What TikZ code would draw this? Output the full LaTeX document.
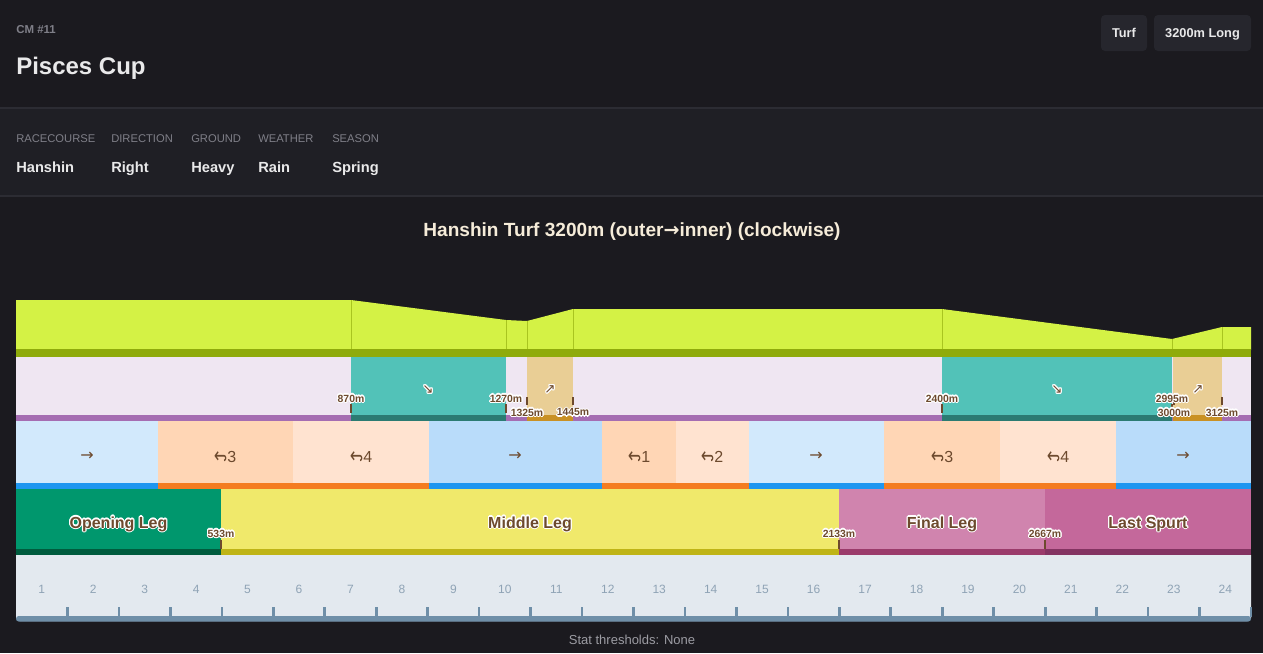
\documentclass[tikz,border=0pt]{standalone}
\usepackage{fontspec}
\setmainfont{Liberation Sans}
\newfontfamily\dejavu{DejaVu Sans}
\usepackage{graphicx}
\usepackage{contour}
\contourlength{0.8pt}
\definecolor{bgdark}{HTML}{1B1A1F}
\definecolor{bginfo}{HTML}{1F1F25}
\definecolor{divider}{HTML}{2C2C33}
\definecolor{badge}{HTML}{26262D}
\definecolor{mutedtxt}{HTML}{7F7F88}
\definecolor{whitetxt}{HTML}{E9E9EA}
\definecolor{titletxt}{HTML}{F6ECD9}
\definecolor{lime}{HTML}{D4F245}
\definecolor{olive}{HTML}{8FAB0B}
\definecolor{oliveline}{HTML}{A9C520}
\definecolor{lavender}{HTML}{EFE6F2}
\definecolor{purplebar}{HTML}{A56DB2}
\definecolor{teal}{HTML}{52C2B8}
\definecolor{tealbar}{HTML}{2B7B72}
\definecolor{tan}{HTML}{E9CE95}
\definecolor{tanbar}{HTML}{C99124}
\definecolor{strA}{HTML}{D2E9FC}
\definecolor{strB}{HTML}{B9DCFA}
\definecolor{pchA}{HTML}{FFD6B5}
\definecolor{pchB}{HTML}{FFE3D0}
\definecolor{orangebar}{HTML}{F47C20}
\definecolor{bluebar}{HTML}{1E96F0}
\definecolor{openC}{HTML}{00976D}
\definecolor{openB}{HTML}{005C3E}
\definecolor{midC}{HTML}{F0E96B}
\definecolor{midB}{HTML}{BFB416}
\definecolor{finC}{HTML}{D084AE}
\definecolor{finB}{HTML}{9B3B6B}
\definecolor{lastC}{HTML}{C4689B}
\definecolor{lastB}{HTML}{843462}
\definecolor{brownT}{HTML}{6D4A2E}
\definecolor{rulerbg}{HTML}{E3E9EF}
\definecolor{rulerline}{HTML}{6F8FA8}
\definecolor{rulertxt}{HTML}{8FA3B5}
\definecolor{foottxt}{HTML}{9C9CA3}
\tikzset{
  lab/.style={font=\fontsize{8.4}{10}\selectfont, text=mutedtxt, anchor=base west, inner sep=0},
  val/.style={font=\bfseries\fontsize{11}{13}\selectfont, text=whitetxt, anchor=base west, inner sep=0},
  badgebox/.style={fill=badge, rounded corners=3pt, draw=none},
  badgetxt/.style={font=\bfseries\fontsize{9.6}{11}\selectfont, text=whitetxt, inner sep=0, anchor=base},
  corner/.style={font=\fontsize{12}{14}\selectfont, text=brownT, inner sep=0},
  phase/.style={font=\bfseries\fontsize{12}{14}\selectfont, text=brownT, inner sep=0, anchor=base},
  dist/.style={font=\bfseries\fontsize{7.8}{9}\selectfont, text=brownT, inner sep=0},
  slopearrow/.style={font=\dejavu\fontsize{10}{12}\selectfont, text=brownT, inner sep=0},
  mtick/.style={draw=brownT, line width=1.1pt},
  rtick/.style={draw=rulerline, line width=2pt},
  rnum/.style={font=\fontsize{9}{10}\selectfont, text=rulertxt, inner sep=0, anchor=base},
  bline/.style={draw=oliveline, line width=0.6pt}
}
\newcommand{\cornersym}{{\dejavu\raisebox{0.05em}{\scalebox{1}[1.35]{\rotatebox[origin=c]{180}{↪}}}}}
\begin{document}
\begin{tikzpicture}[x=0.75pt, y=-0.75pt]
\useasboundingbox (0,0) rectangle (1263,653);
% backgrounds
\fill[bgdark] (0,0) rectangle (1263,653);
\fill[bginfo] (0,108) rectangle (1263,196);
\draw[divider, line width=0.8pt] (0,108) -- (1263,108);
\draw[divider, line width=0.8pt] (0,196) -- (1263,196);

% header
\node[lab, font=\bfseries\fontsize{8.6}{10}\selectfont] (cm) at (16,33.5) {CM \#11};
\node[anchor=base west, inner sep=0, text=whitetxt, font=\bfseries\fontsize{18}{20}\selectfont] (name) at (16,74.5) {Pisces Cup};
\fill[badgebox] (1101,15) rectangle (1147,51);
\node[badgetxt] (turf) at (1124,37.2) {Turf};
\fill[badgebox] (1154,15) rectangle (1251,51);
\node[badgetxt] (dist) at (1202.5,37.2) {3200m Long};

% info row
\node[lab] (l1) at (16,142.3) {RACECOURSE};
\node[lab] (l2) at (111,142.3) {DIRECTION};
\node[lab] (l3) at (191,142.3) {GROUND};
\node[lab] (l4) at (258,142.3) {WEATHER};
\node[lab] (l5) at (332,142.3) {SEASON};
\node[val] (v1) at (16,172.5) {Hanshin};
\node[val] (v2) at (111,172.5) {Right};
\node[val] (v3) at (191,172.5) {Heavy};
\node[val] (v4) at (258,172.5) {Rain};
\node[val] (v5) at (332,172.5) {Spring};

% title
\node[font=\bfseries\fontsize{14.3}{17}\selectfont, text=titletxt, inner sep=0, anchor=base] (title) at (632,236.5) {Hanshin Turf 3200m (outer{\dejavu →}inner) (clockwise)};

% elevation
\fill[lime] (16,300) -- (351,300) -- (506,320) -- (527,321) -- (573,309) -- (942,309) -- (1172,339) -- (1222,327) -- (1251,327) -- (1251,350) -- (16,350) -- cycle;
\draw[bline] (351,300) -- (351,350);
\draw[bline] (506,320) -- (506,350);
\draw[bline] (527,321) -- (527,350);
\draw[bline] (573,309) -- (573,350);
\draw[bline] (942,309) -- (942,350);
\draw[bline] (1172,339) -- (1172,350);
\draw[bline] (1222,327) -- (1222,350);
\fill[olive] (16,349) rectangle (1251,357);

% slopes
\fill[lavender] (16,357) rectangle (1251,415);
\fill[purplebar] (16,415) rectangle (1251,421);
\fill[teal] (351,357) rectangle (506,415);
\fill[tealbar] (351,415) rectangle (506,421);
\fill[tan] (527,357) rectangle (573,415);
\fill[tanbar] (527,415) rectangle (573,421);
\fill[teal] (942,357) rectangle (1172,415);
\fill[tealbar] (942,415) rectangle (1172,421);
\fill[tan] (1173,357) rectangle (1222,415);
\fill[tanbar] (1173,415) rectangle (1222,421);
\node[slopearrow] (s1) at (428,390) {\contour{white}{↘}};
\node[slopearrow] (s2) at (550,390) {\contour{white}{↗}};
\node[slopearrow] (s3) at (1057,390) {\contour{white}{↘}};
\node[slopearrow] (s4) at (1198,390) {\contour{white}{↗}};
\draw[mtick] (351,404) -- (351,413);
\draw[mtick] (506,404) -- (506,413);
\draw[mtick] (527,397) -- (527,405);
\draw[mtick] (573,397) -- (573,405);
\draw[mtick] (942,404) -- (942,413);
\draw[mtick] (1172,404) -- (1172,413);
\draw[mtick] (1174,397) -- (1174,405);
\draw[mtick] (1222,397) -- (1222,405);
\node[dist] (d870) at (351,399) {\contour{white}{870m}};
\node[dist] (d1270) at (506,399) {\contour{white}{1270m}};
\node[dist] (d1325) at (527,413) {\contour{white}{1325m}};
\node[dist] (d1445) at (573,413) {\contour{white}{1445m}};
\node[dist] (d2400) at (942,399) {\contour{white}{2400m}};
\node[dist] (d2995) at (1172,399) {\contour{white}{2995m}};
\node[dist] (d3000) at (1174,413) {\contour{white}{3000m}};
\node[dist] (d3125) at (1222,413) {\contour{white}{3125m}};

% corners / straights
\fill[strA] (16,421) rectangle (158,483);   \fill[bluebar] (16,483) rectangle (158,489);
\fill[pchA] (158,421) rectangle (293,483);  \fill[orangebar] (158,483) rectangle (293,489);
\fill[pchB] (293,421) rectangle (429,483);  \fill[orangebar] (293,483) rectangle (429,489);
\fill[strB] (429,421) rectangle (602,483);  \fill[bluebar] (429,483) rectangle (602,489);
\fill[pchA] (602,421) rectangle (676,483);  \fill[orangebar] (602,483) rectangle (676,489);
\fill[pchB] (676,421) rectangle (749,483);  \fill[orangebar] (676,483) rectangle (749,489);
\fill[strA] (749,421) rectangle (884,483);  \fill[bluebar] (749,483) rectangle (884,489);
\fill[pchA] (884,421) rectangle (1000,483); \fill[orangebar] (884,483) rectangle (1000,489);
\fill[pchB] (1000,421) rectangle (1116,483);\fill[orangebar] (1000,483) rectangle (1116,489);
\fill[strB] (1116,421) rectangle (1251,483);\fill[bluebar] (1116,483) rectangle (1251,489);
\node[corner] (c1) at (87,456) {{\dejavu →}};
\node[corner] (c2) at (225,456) {\cornersym 3};
\node[corner] (c3) at (361,456) {\cornersym 4};
\node[corner] (c4) at (515,456) {{\dejavu →}};
\node[corner] (c5) at (639,456) {\cornersym 1};
\node[corner] (c6) at (712,456) {\cornersym 2};
\node[corner] (c7) at (816,456) {{\dejavu →}};
\node[corner] (c8) at (942,456) {\cornersym 3};
\node[corner] (c9) at (1058,456) {\cornersym 4};
\node[corner] (c10) at (1183,456) {{\dejavu →}};

% phases
\fill[openC] (16,489) rectangle (221,549); \fill[openB] (16,549) rectangle (221,555);
\fill[midC] (221,489) rectangle (839,549); \fill[midB] (221,549) rectangle (839,555);
\fill[finC] (839,489) rectangle (1045,549); \fill[finB] (839,549) rectangle (1045,555);
\fill[lastC] (1045,489) rectangle (1251,549); \fill[lastB] (1045,549) rectangle (1251,555);
\node[phase] (p1) at (118.5,528) {\contour{white}{Opening Leg}};
\node[phase] (p2) at (530,528) {\contour{white}{Middle Leg}};
\node[phase] (p3) at (942,528) {\contour{white}{Final Leg}};
\node[phase] (p4) at (1148,528) {\contour{white}{Last Spurt}};
\draw[mtick] (221,540) -- (221,549);
\draw[mtick] (839,540) -- (839,549);
\draw[mtick] (1045,540) -- (1045,549);
\node[dist] (d533) at (221,534) {\contour{white}{533m}};
\node[dist] (d2133) at (839,534) {\contour{white}{2133m}};
\node[dist] (d2667) at (1045,534) {\contour{white}{2667m}};

% ruler
\fill[rulerbg] (16,555) -- (1251,555) -- (1251,618) [rounded corners=3pt] -- (1251,621) -- (16,621) [sharp corners] -- (16,618) -- cycle;
\fill[rulerline, rounded corners=2pt] (16,616) rectangle (1251,621.5);
\foreach \k in {1,...,24} {
  \draw[rtick] ({16+51.458*\k},607) -- ({16+51.458*\k},617);
  \node[rnum] (r\k) at ({16+51.458*(\k-0.5)},593.5) {\k};
}

% footer
\node[font=\fontsize{9.75}{11}\selectfont, text=foottxt, inner sep=0, anchor=base] (foot) at (632,644.5) {Stat thresholds: None};
\end{tikzpicture}
\end{document}
